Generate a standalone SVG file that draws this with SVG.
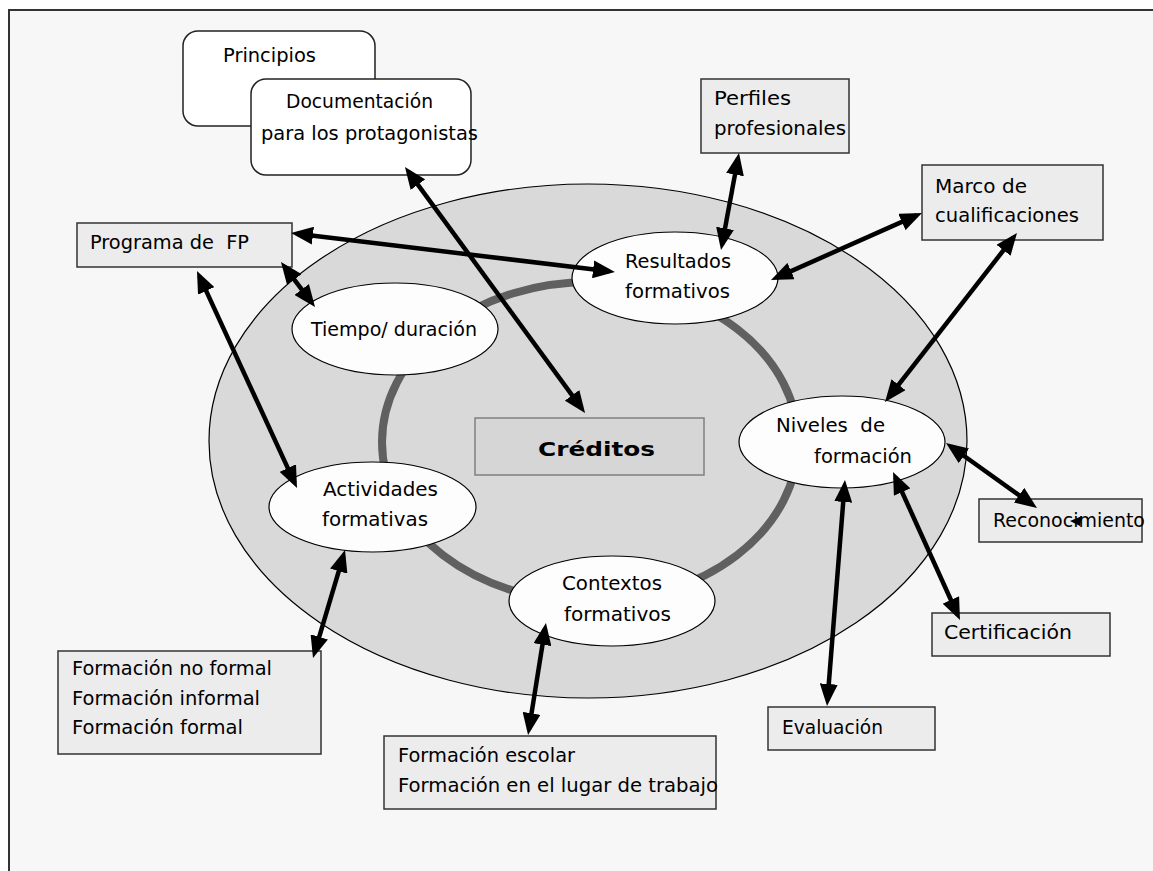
<svg xmlns="http://www.w3.org/2000/svg" width="1153" height="871" viewBox="0 0 1153 871">
<defs>
<marker id="ah" markerUnits="userSpaceOnUse" viewBox="0 0 22 18" markerWidth="22" markerHeight="18" refX="16" refY="9" orient="auto-start-reverse">
<path d="M0,0 L22,9 L0,18 z" fill="#000"/>
</marker>
<style>
text{font-family:"DejaVu Sans","Liberation Sans",sans-serif;font-size:20px;fill:#000;white-space:pre}
.box{fill:#ececec;stroke:#333;stroke-width:1.5}
.rbox{fill:#fff;stroke:#222;stroke-width:1.5}
.node{fill:#fdfdfd;stroke:#000;stroke-width:1.2}
.conn line{stroke:#000;stroke-width:4.5;marker-start:url(#ah);marker-end:url(#ah)}
</style>
</defs>
<rect x="0" y="0" width="1153" height="871" fill="#fff"/>
<rect x="9" y="10" width="1160" height="880" fill="#f7f7f7" stroke="#333" stroke-width="2"/>

<g id="outer-ring">
<ellipse cx="588" cy="441" rx="379" ry="257" fill="#d9d9d9" stroke="#000" stroke-width="1.2"/>
<ellipse cx="590" cy="442" rx="208" ry="160" fill="none" stroke="#606060" stroke-width="8"/>
</g>

<g id="creditos">
<rect x="475" y="418" width="229" height="57" fill="#d6d6d6" stroke="#808080" stroke-width="1.5"/>
<text x="538" y="456" font-weight="bold" font-size="26" textLength="117" lengthAdjust="spacingAndGlyphs">Créditos</text>
</g>

<g id="principios">
<rect class="rbox" x="183" y="31" width="192" height="95" rx="15"/>
<text x="223" y="62" textLength="93" lengthAdjust="spacingAndGlyphs">Principios</text>
</g>

<g id="documentacion">
<rect class="rbox" x="251" y="79" width="220" height="96" rx="15"/>
<text x="286" y="108" textLength="147" lengthAdjust="spacingAndGlyphs">Documentación</text>
<text x="261" y="140" textLength="217" lengthAdjust="spacingAndGlyphs">para los protagonistas</text>
</g>

<g id="programa">
<rect class="box" x="77" y="223" width="215" height="44"/>
<text x="90" y="249" xml:space="preserve" textLength="159" lengthAdjust="spacingAndGlyphs">Programa de  FP</text>
</g>

<g id="perfiles">
<rect class="box" x="701" y="79" width="148" height="74"/>
<text x="714" y="105" textLength="77" lengthAdjust="spacingAndGlyphs">Perfiles</text>
<text x="714" y="135" textLength="132" lengthAdjust="spacingAndGlyphs">profesionales</text>
</g>

<g id="marco">
<rect class="box" x="922" y="165" width="181" height="75"/>
<text x="935" y="193" textLength="92" lengthAdjust="spacingAndGlyphs">Marco de</text>
<text x="935" y="222" textLength="144" lengthAdjust="spacingAndGlyphs">cualificaciones</text>
</g>

<g id="tiempo">
<ellipse class="node" cx="395" cy="329" rx="103" ry="46"/>
<text x="311" y="336" textLength="166" lengthAdjust="spacingAndGlyphs">Tiempo/ duración</text>
</g>

<g id="resultados">
<ellipse class="node" cx="675" cy="278" rx="103" ry="46"/>
<text x="625" y="268" textLength="106" lengthAdjust="spacingAndGlyphs">Resultados</text>
<text x="625" y="298" textLength="105" lengthAdjust="spacingAndGlyphs">formativos</text>
</g>

<g id="actividades">
<ellipse class="node" cx="372.5" cy="507" rx="103.5" ry="45"/>
<text x="323" y="496" textLength="115" lengthAdjust="spacingAndGlyphs">Actividades</text>
<text x="322" y="526" textLength="106" lengthAdjust="spacingAndGlyphs">formativas</text>
</g>

<g id="niveles">
<ellipse class="node" cx="842" cy="442" rx="103" ry="46"/>
<text x="776" y="432" xml:space="preserve" textLength="109" lengthAdjust="spacingAndGlyphs">Niveles  de</text>
<text x="814" y="463" textLength="98" lengthAdjust="spacingAndGlyphs">formación</text>
</g>

<g id="contextos">
<ellipse class="node" cx="612" cy="601" rx="103" ry="45"/>
<text x="562" y="590" textLength="100" lengthAdjust="spacingAndGlyphs">Contextos</text>
<text x="564" y="621" textLength="107" lengthAdjust="spacingAndGlyphs">formativos</text>
</g>

<g id="reconocimiento">
<rect class="box" x="979" y="499" width="163" height="43"/>
<text x="993" y="527" textLength="152" lengthAdjust="spacingAndGlyphs">Reconocimiento</text>
</g>

<g id="certificacion">
<rect class="box" x="932" y="613" width="178" height="43"/>
<text x="944" y="639" textLength="128" lengthAdjust="spacingAndGlyphs">Certificación</text>
</g>

<g id="evaluacion">
<rect class="box" x="768" y="707" width="167" height="43"/>
<text x="782" y="734" textLength="101" lengthAdjust="spacingAndGlyphs">Evaluación</text>
</g>

<g id="formacion-no-formal">
<rect class="box" x="58" y="651" width="263" height="103"/>
<text x="72" y="675" textLength="200" lengthAdjust="spacingAndGlyphs">Formación no formal</text>
<text x="72" y="705" textLength="188" lengthAdjust="spacingAndGlyphs">Formación informal</text>
<text x="72" y="734" textLength="171" lengthAdjust="spacingAndGlyphs">Formación formal</text>
</g>

<g id="formacion-escolar">
<rect class="box" x="384" y="736" width="332" height="73"/>
<text x="398" y="762" textLength="177" lengthAdjust="spacingAndGlyphs">Formación escolar</text>
<text x="398" y="792" textLength="320" lengthAdjust="spacingAndGlyphs">Formación en el lugar de trabajo</text>
</g>

<g id="connectors" class="conn">
<line x1="408.5" y1="171.8" x2="581.5" y2="408.2"/>
<line x1="297" y1="233.7" x2="609" y2="271.3"/>
<line x1="284.6" y1="266.8" x2="311.4" y2="302.2"/>
<line x1="199.5" y1="276.4" x2="294.5" y2="482.6"/>
<line x1="343.3" y1="555.8" x2="314.7" y2="652.2"/>
<line x1="737.9" y1="158.9" x2="722.1" y2="244.1"/>
<line x1="776.5" y1="277.6" x2="916.5" y2="215.4"/>
<line x1="1013.3" y1="237.7" x2="888.7" y2="397.3"/>
<line x1="950.9" y1="446.5" x2="1032.1" y2="504.5"/>
<line x1="895.5" y1="477.5" x2="957.5" y2="614.5"/>
<line x1="844.5" y1="486" x2="827.5" y2="700"/>
<line x1="545" y1="628.9" x2="529" y2="729.1"/>
<polygon points="1070,521 1082,516 1080,526" fill="#000"/>
</g>
</svg>
